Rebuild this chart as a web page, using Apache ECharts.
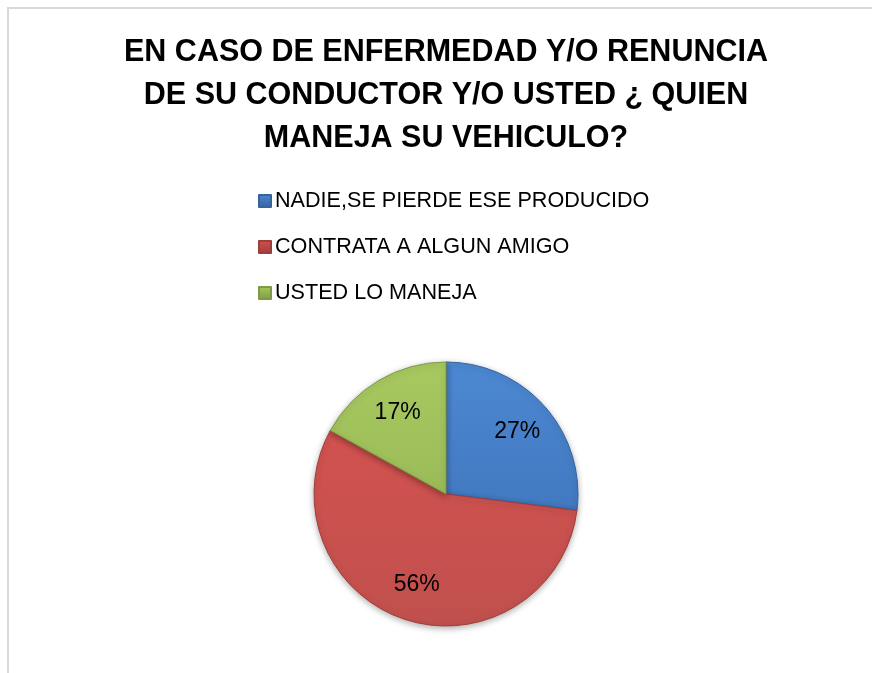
<!DOCTYPE html>
<html>
<head>
<meta charset="utf-8">
<script src="https://cdn.jsdelivr.net/npm/echarts@6/dist/echarts.min.js"></script>
<style>html,body{margin:0;padding:0;background:#fff}#c{width:872px;height:673px}</style>
</head>
<body>
<div id="c"></div>
<script>
const titleText = 'EN CASO DE ENFERMEDAD Y/O RENUNCIA\nDE SU CONDUCTOR Y/O USTED ¿ QUIEN\nMANEJA SU VEHICULO?';
const categories = ['NADIE,SE PIERDE ESE PRODUCIDO', 'CONTRATA A ALGUN AMIGO', 'USTED LO MANEJA'];
const values = [27, 56, 17];
const baseColors = ['#4279C0', '#C0504D', '#9BBB59'];
const lightColors = ['#4C88D2', '#D2524F', '#A8C95F'];
const darkColors = ['#35639E', '#9E3E3B', '#7E9A45'];

const FONT = "'Liberation Sans Narrow', 'Arial Narrow', 'Liberation Sans', Arial, sans-serif";
const chart = echarts.init(document.getElementById('c'));

function grad(i) {
  return new echarts.graphic.LinearGradient(0, 0, 0, 1, [
    { offset: 0, color: lightColors[i] },
    { offset: 1, color: baseColors[i] }
  ]);
}
function iconGrad(i) {
  return new echarts.graphic.LinearGradient(0, 0, 0, 1, [
    { offset: 0, color: lightColors[i] },
    { offset: 1, color: darkColors[i] }
  ]);
}

const pieData = categories.map((name, i) => ({
  name, value: values[i],
  itemStyle: { color: grad(i), borderColor: darkColors[i], borderWidth: 1 }
}));
const labelData = categories.map((name, i) => ({ name, value: values[i] }));

chart.setOption({
  backgroundColor: '#ffffff',
  animation: false,
  title: {
    text: titleText,
    left: 446,
    top: 31,
    padding: 0,
    textAlign: 'center',
    textStyle: { fontFamily: FONT, fontWeight: 'bold', fontSize: 30.5, lineHeight: 43, color: '#000' }
  },
  legend: {
    orient: 'vertical',
    left: 253,
    top: 185,
    itemGap: 24,
    itemWidth: 12,
    itemHeight: 12,
    icon: 'rect',
    data: categories.map((name, i) => ({ name, itemStyle: { color: iconGrad(i) } })),
    textStyle: { fontFamily: FONT, fontSize: 21.6, color: '#000', padding: [0, 0, 0, -1] }
  },
  graphic: [{
    type: 'rect',
    shape: { x: 8, y: 8, width: 900, height: 700 },
    style: { fill: 'none', stroke: '#d9d9d9', lineWidth: 2 },
    silent: true
  }],
  series: [{
    type: 'pie',
    center: [446, 494],
    radius: [0, 132],
    startAngle: 90,
    clockwise: true,
    data: pieData,
    label: { show: false },
    labelLine: { show: false },
    itemStyle: { shadowBlur: 6, shadowColor: 'rgba(0,0,0,0.3)', shadowOffsetY: 2 },
    emphasis: { disabled: true }
  }, {
    type: 'pie',
    center: [446, 494],
    radius: [0, 184],
    startAngle: 90,
    clockwise: true,
    silent: true,
    data: labelData,
    itemStyle: { color: 'rgba(0,0,0,0)' },
    label: {
      show: true,
      position: 'inside',
      formatter: '{d}%',
      fontFamily: FONT,
      fontSize: 23,
      color: '#000'
    },
    labelLine: { show: false },
    emphasis: { disabled: true }
  }]
});
</script>
</body>
</html>
